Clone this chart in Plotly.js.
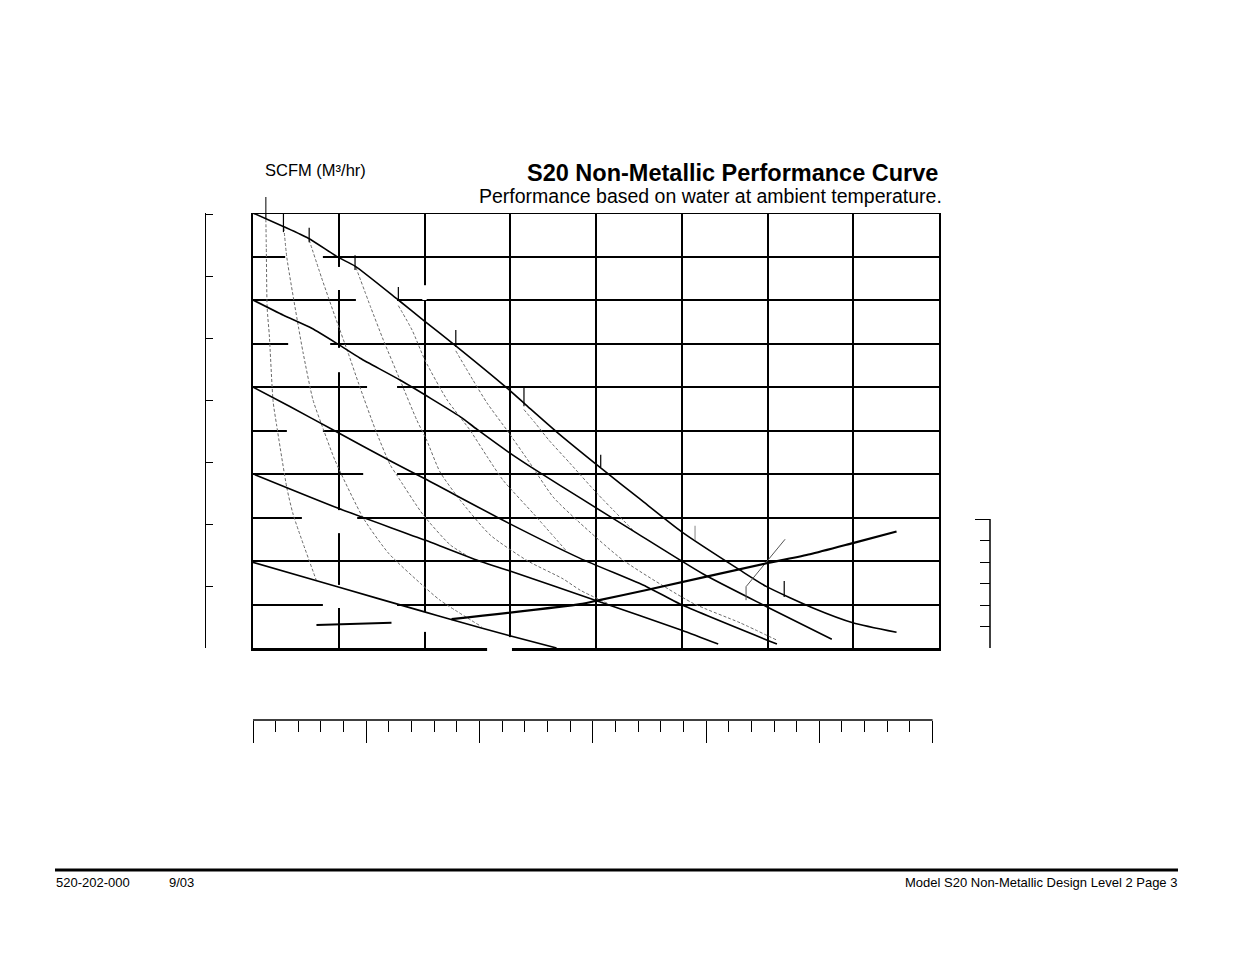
<!DOCTYPE html>
<html>
<head>
<meta charset="utf-8">
<script src="https://cdn.plot.ly/plotly-3.0.1.min.js"></script>
<style>
  html, body { margin: 0; padding: 0; background: #fff; }
  #chart { width: 1235px; height: 954px; }
</style>
</head>
<body>
<div id="chart"></div>
<script>
// pump curves: flow (US gpm) against discharge pressure (psi), one per air inlet pressure
const air100Flow = [0, 7.07, 12.9, 19.9, 23.8, 33.9, 39.7, 47.5, 59.2, 64.1, 70.8, 81.1, 90.3, 100, 113.6, 119.8, 130.6, 139.9, 150.1];
const air100Psi = [100, 96.9, 94.2, 89.8, 87.8, 80, 75.4, 69.3, 59.8, 55.5, 49.7, 41.4, 34.2, 26.7, 17.9, 14.1, 9.2, 5.8, 3.6];
const air80Flow = [0, 7.1, 13.7, 19.9, 25, 34.3, 48.3, 52.2, 59.5, 66.9, 76.3, 89.5, 105, 119.8, 135];
const air80Psi = [80, 76.5, 73.5, 69.8, 66.6, 61.6, 53.2, 50.3, 45.1, 40.3, 34.5, 26.4, 17.0, 9.5, 2.0];
const air60Flow = [0, 8.6, 18.4, 32.4, 40.1, 59.6, 76.3, 91.8, 99.6, 122.2];
const air60Psi = [60, 55.5, 50.3, 42.8, 38.9, 28.7, 20.6, 14.1, 10.1, 0.9];
const air40Flow = [0, 19.9, 40.1, 53.3, 59.6, 79.8, 100, 108.5];
const air40Psi = [40, 32.1, 24.8, 19.8, 17.8, 11.0, 4.1, 0.9];
const air20Flow = [0, 19.9, 40, 46, 59.9, 70.8];
const air20Psi = [19.7, 14.0, 8.3, 6.6, 2.8, 0];

// air consumption lines (dashed)
const scfmAFlow = [3.0, 3.1, 3.3, 3.8, 4.7, 5.5, 7.9, 9.4, 14.9];
const scfmAPsi = [98.6, 92.2, 78.2, 72.0, 56.6, 51.3, 36.8, 30.6, 15.2];
const scfmBFlow = [7.2, 7.9, 10.6, 11.7, 14.0, 16.4, 19.1, 25.7, 31.6, 39.0, 43.6, 53.3];
const scfmBPsi = [96.6, 89.7, 73.8, 67.8, 57.0, 50.3, 43.2, 29.9, 21.8, 14.9, 11.0, 4.9];
const scfmCFlow = [13.1, 16.0, 19.1, 22.2, 24.6, 28.5, 32.0, 33.5, 39.7, 46.0, 49.8];
const scfmCPsi = [93.8, 85.1, 76.3, 67.8, 60.9, 50.3, 42.1, 39.8, 30.6, 23.7, 21.3];
const scfmDFlow = [24.0, 27.5, 30.4, 34.3, 38.2, 40.5, 43.6, 48.3, 55.3, 64.1, 72.3, 76.3, 82.6];
const scfmDPsi = [87.5, 78.2, 70.8, 61.6, 52.4, 47.8, 40.5, 34.0, 26.0, 20.0, 15.9, 13.3, 10.3];
const scfmEFlow = [33.9, 37.1, 40.1, 45.3, 50.6, 54.8, 58.3, 65.3, 73.2];
const scfmEPsi = [78.7, 73.1, 66.2, 57.0, 50.1, 43.7, 38.6, 31.0, 22.2];
const scfmFFlow = [47.3, 51.3, 54.6, 59.2, 64.6, 70.0, 76.3, 86.3, 102.6, 113.6, 122.2];
const scfmFPsi = [68.3, 61.6, 56.3, 50.1, 42.5, 34.7, 28.7, 20.2, 10.3, 5.8, 1.8];
const scfmGFlow = [63.2, 66.0, 69.0, 73.9, 80.2, 89.3];
const scfmGPsi = [54.8, 51.5, 47.8, 42.5, 35.6, 26.4];

// NPSHr, read on the right hand scale (ft)
const npshFlow = [46.3, 76.3, 80.2, 91.8, 119.8, 129.9, 139.9, 150.1];
const npshFt = [6.7, 10.2, 11.0, 13.5, 19.7, 21.8, 24.4, 27.1];
const npshKeyFlow = [14.8, 32.3];
const npshKeyPsi = [5.3, 5.8];
const npshLeaderFlow = [115.0, 115.0, 124.1];
const npshLeaderPsi = [11.0, 14.1, 25.0];

// short label marks standing on the 100 psi curve
const markFlow = [3.0, 7.1, 13.1, 23.8, 33.9, 47.3, 63.2, 81.1, 103.1, 123.9];
const markTop = [100, 100, 96.6, 90.3, 83.0, 73.1, 59.8, 44.4, 28.1, 15.4];
const markBottom = [98.6, 95.6, 93.3, 86.9, 80.0, 69.2, 55.6, 41.6, 24.8, 11.7];

const FONT = "Liberation Sans, Arial, sans-serif";
const W = 1235;
const H = 954;
const px = (x) => x / W;
const py = (y) => 1 - y / H;

function solid(x, y, width, yaxis) {
  return {
    type: "scatter", mode: "lines", x, y, yaxis: yaxis || "y",
    line: { color: "#000", width, shape: "spline", smoothing: 0.6 },
    hoverinfo: "skip",
  };
}

function dashed(x, y) {
  return {
    type: "scatter", mode: "lines", x, y,
    line: { color: "#6a6a6a", width: 1, dash: "3px,2px", shape: "spline", smoothing: 0.6 },
    hoverinfo: "skip",
  };
}

function hGap(y, x0, x1) {
  return { type: "rect", xref: "x", yref: "y", x0, x1, y0: y - 0.55, y1: y + 0.55, fillcolor: "#fff", line: { width: 0 }, layer: "between" };
}

function vGap(x, y0, y1) {
  return { type: "rect", xref: "x", yref: "y", x0: x - 0.5, x1: x + 0.5, y0, y1, fillcolor: "#fff", line: { width: 0 }, layer: "between" };
}

const traces = [
  dashed(scfmAFlow, scfmAPsi),
  dashed(scfmBFlow, scfmBPsi),
  dashed(scfmCFlow, scfmCPsi),
  dashed(scfmDFlow, scfmDPsi),
  dashed(scfmEFlow, scfmEPsi),
  dashed(scfmFFlow, scfmFPsi),
  dashed(scfmGFlow, scfmGPsi),
  solid(air100Flow, air100Psi, 1.6),
  solid(air80Flow, air80Psi, 1.6),
  solid(air60Flow, air60Psi, 1.6),
  solid(air40Flow, air40Psi, 1.6),
  solid(air20Flow, air20Psi, 1.6),
  solid(npshKeyFlow, npshKeyPsi, 2),
  { type: "scatter", mode: "lines", x: npshLeaderFlow, y: npshLeaderPsi, line: { color: "#555", width: 1 }, hoverinfo: "skip" },
  solid(npshFlow, npshFt, 2.2, "y3"),
  { type: "scatter", mode: "lines", x: [0, 600], y: [-10, -10], xaxis: "x2", yaxis: "y", opacity: 0, hoverinfo: "skip" },
  { type: "scatter", mode: "lines", x: [0, 1], y: [0, 70], xaxis: "x", yaxis: "y2", opacity: 0, hoverinfo: "skip" },
];

const shapes = [
  { type: "line", xref: "x", yref: "y", x0: 0, x1: 160, y0: 100, y1: 100, line: { color: "#000", width: 2 } },
  hGap(90, 7.5, 16.3), hGap(80, 24.0, 33.6), hGap(70, 8.2, 18.0), hGap(60, 26.6, 33.6),
  hGap(50, 7.9, 16.3), hGap(40, 25.7, 33.6), hGap(30, 11.4, 24.3), hGap(10, 16.3, 33.6),
  vGap(20, 82.3, 87.6), vGap(20, 63.4, 69.0), vGap(20, 26.4, 31.7), vGap(20, 9.2, 14.5),
  vGap(40, 80, 83.4), vGap(40, 3.7, 8.3), vGap(60, 0, 2.5),
  { type: "rect", xref: "x", yref: "paper", x0: 54.6, x1: 60.4, y0: py(653), y1: py(643.5), fillcolor: "#fff", line: { width: 0 }, layer: "above" },
  { type: "line", xref: "x", yref: "paper", x0: markFlow[0], x1: markFlow[0], y0: py(213), y1: py(197), line: { color: "#000", width: 1 } },
  { type: "line", xref: "x2", yref: "paper", x0: 0, x1: 600, y0: py(720), y1: py(720), line: { color: "#000", width: 1.5 } },
  { type: "line", xref: "paper", yref: "y3", x0: px(990), x1: px(990), y0: 0, y1: 30, line: { color: "#000", width: 1.5 } },
  { type: "line", xref: "paper", yref: "paper", x0: px(55), x1: px(1178), y0: py(870), y1: py(870), line: { color: "#000", width: 3 } },
];

markFlow.forEach((x, i) => {
  shapes.push({
    type: "line", xref: "x", yref: "y", x0: x, x1: x, y0: markBottom[i], y1: markTop[i],
    line: { color: i === 8 ? "#999" : "#000", width: 1.2 },
  });
});

const annotations = [
  { text: "<b>S20 Non-Metallic Performance Curve</b>", x: px(940), y: py(172.5), xanchor: "right", yanchor: "middle", font: { size: 23.5 } },
  { text: "Performance based on water at ambient temperature.", x: px(944), y: py(196), xanchor: "right", yanchor: "middle", font: { size: 19.5 } },
  { text: "SCFM (M³/hr)", x: px(263), y: py(170), xanchor: "left", yanchor: "middle", font: { size: 16.5 } },
  { text: "520-202-000", x: px(54), y: py(882), xanchor: "left", yanchor: "middle", font: { size: 13 } },
  { text: "9/03", x: px(167), y: py(882), xanchor: "left", yanchor: "middle", font: { size: 13 } },
  { text: "Model S20 Non-Metallic Design Level 2 Page 3", x: px(1179), y: py(882), xanchor: "right", yanchor: "middle", font: { size: 13 } },
].map((a) => Object.assign({ xref: "paper", yref: "paper", showarrow: false }, a, { font: Object.assign({ family: FONT, color: "#000" }, a.font) }));

const layout = {
  width: W,
  height: H,
  margin: { l: 0, r: 0, t: 0, b: 0 },
  paper_bgcolor: "#fff",
  plot_bgcolor: "#fff",
  showlegend: false,
  font: { family: FONT, color: "#000" },
  xaxis: {
    domain: [px(253), px(939)], range: [0, 160], dtick: 20,
    showgrid: true, gridcolor: "#000", gridwidth: 1.6, zeroline: false,
    showline: true, linecolor: "#000", linewidth: 2.6, ticks: "", showticklabels: false,
  },
  yaxis: {
    domain: [py(648), py(213)], range: [0, 100], dtick: 10,
    showgrid: true, gridcolor: "#000", gridwidth: 1.6, zeroline: false,
    showline: true, mirror: true, linecolor: "#000", linewidth: 1.6, ticks: "", showticklabels: false,
  },
  // litres per minute under the chart
  xaxis2: {
    overlaying: "x", anchor: "free", position: py(720), side: "bottom",
    range: [0, 160 * 3.7854], tick0: 0, dtick: 100,
    ticks: "outside", ticklen: 22, tickwidth: 1.2, tickcolor: "#000",
    minor: { ticks: "outside", dtick: 20, tick0: 0, ticklen: 11, tickwidth: 1, tickcolor: "#000", showgrid: false },
    showgrid: false, zeroline: false, showline: false, showticklabels: false,
  },
  // metres of head on the outer left
  yaxis2: {
    overlaying: "y", anchor: "free", position: px(205), side: "left",
    range: [0, 100 * 0.7031], tick0: 0, dtick: 10,
    ticks: "inside", ticklen: 7, tickwidth: 1.2, tickcolor: "#000",
    showline: true, linecolor: "#000", linewidth: 1.2,
    showgrid: false, zeroline: false, showticklabels: false,
  },
  // NPSHr scale on the right
  yaxis3: {
    overlaying: "y", anchor: "free", position: px(990), side: "right",
    range: [0, 30 * 435 / 129],
    tickmode: "array", tickvals: [0, 30],
    ticks: "inside", ticklen: 15, tickwidth: 1.2, tickcolor: "#000",
    minor: { ticks: "inside", tickmode: "array", tickvals: [5, 10, 15, 20, 25], ticklen: 10, tickwidth: 1.2, tickcolor: "#000", showgrid: false },
    showline: false, showgrid: false, zeroline: false, showticklabels: false,
  },
  shapes,
  annotations,
};

Plotly.newPlot("chart", traces, layout, { displayModeBar: false });
</script>
</body>
</html>
